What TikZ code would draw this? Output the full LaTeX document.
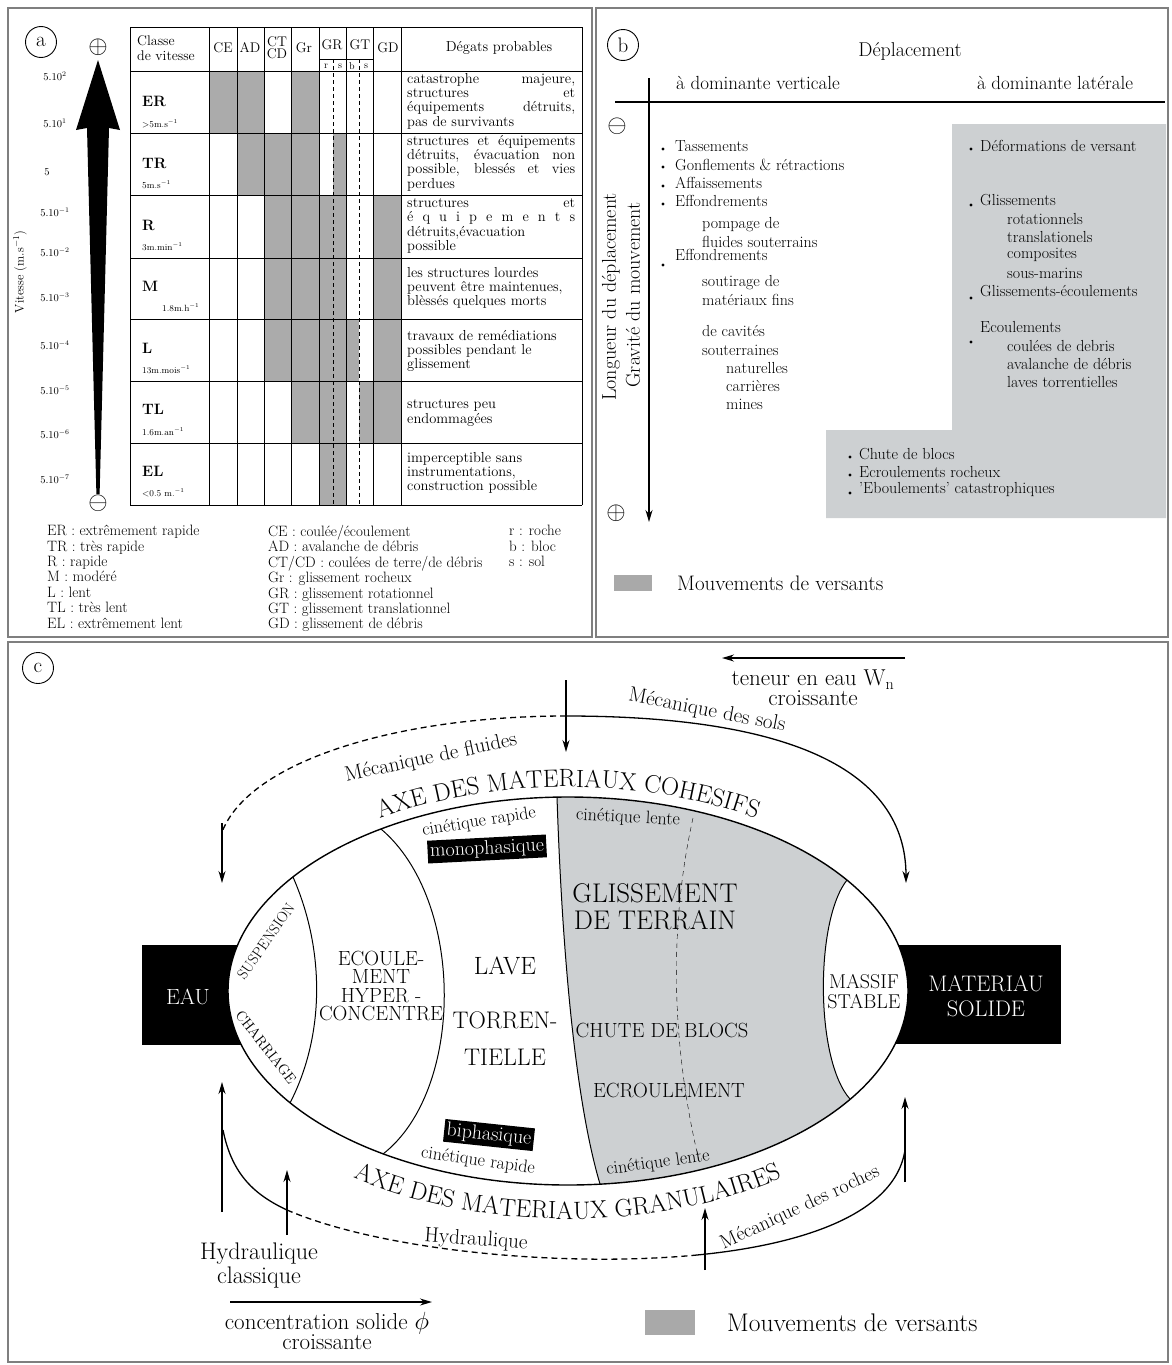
\documentclass[tikz,border=0pt]{standalone}
\usepackage{fontspec}
\usepackage{amsmath,amssymb}
\usepackage{tikz}
\usetikzlibrary{arrows.meta,calc,positioning,decorations.text}
\usepackage{xcolor}
\definecolor{cellgray}{HTML}{ABABAB}
\definecolor{zonegray}{HTML}{CDD0D2}
\definecolor{keygray}{HTML}{A9A9A9}
\definecolor{framegray}{HTML}{7F7F7F}
\newcommand{\fsz}[2]{\fontsize{#1}{#2}\selectfont}
\tikzset{
  panelframe/.style={draw=framegray,line width=2pt},
  panellabel/.style={circle,draw,line width=0.9pt,inner sep=0pt,minimum size=31pt,font=\fsz{21}{21}},
  signnode/.style={inner sep=0pt,font=\fsz{25}{25}},
  ticklabel/.style={inner sep=0pt,font=\fsz{10.5}{10.5}},
  headtext/.style={inner sep=0pt,align=center,font=\fsz{14}{12}},
  classtext/.style={anchor=west,inner sep=0pt,font=\fsz{15}{15}\bfseries},
  speedtext/.style={anchor=west,inner sep=0pt,font=\fsz{9}{9}},
  damagetext/.style={anchor=west,inner sep=0pt,text width=168pt,align=justify,font=\fsz{14.5}{14.3}},
  keytext/.style={anchor=north west,inner sep=0pt,align=left,font=\fsz{15}{15.4}},
  itemtext/.style={anchor=west,inner sep=0pt,font=\fsz{16}{16}},
  titletext/.style={inner sep=0pt,font=\fsz{19}{19}},
  zonetext/.style={inner sep=0pt,align=center},
  blacktag/.style={fill=black,text=white,inner sep=2.5pt,font=\fsz{20}{20}},
  kinetext/.style={inner sep=0pt,font=\fsz{18}{18}},
  mechtext/.style={inner sep=0pt,font=\fsz{21}{21}},
  solidarc/.style={line width=1.3pt},
  brokenarc/.style={line width=1.3pt,dash pattern=on 6pt off 4pt},
}

\begin{document}
\begin{tikzpicture}[x=1pt,y=-1pt,>={Stealth[length=12pt,width=7pt]}]
  \useasboundingbox (0,0) rectangle (1171,1365);

  % ---------------- panel a
  \draw[panelframe] (8,8) rectangle (592,637);
  \node[panellabel] (alabel) at (41,42) {a};
  \node[signnode] (aplus) at (98,47) {$\oplus$};
  \node[signnode] (aminus) at (98,503) {$\ominus$};
  \fill (98,60) -- (120,130) -- (109,128) -- (99.6,494) -- (96.4,494) -- (87,128) -- (76,130) -- cycle;
  \foreach \e/\y [count=\i] in {2/76,1/123,-1/212,-2/252,-3/297,-4/345,-5/390,-6/434,-7/479}
    \node[ticklabel] (tick\i) at (55,\y) {5.10$^{\e}$};
  \node[ticklabel] (tick0) at (47,172) {5};
  \node[rotate=90,inner sep=0pt,font=\fsz{12.5}{12.5}] (vaxis) at (20,272) {Vitesse (m.s$^{-1}$)};

  % grey cells
  \foreach \xa/\xb/\ya/\yb in {209/237/71/133, 237/264/71/195, 264/291/133/381, 291/319/71/443,
      333/346/133/195, 319/346/195/505, 346/359/319/381, 359/373/381/443, 373/401/195/443}
    \fill[cellgray] (\xa,\ya) rectangle (\xb,\yb);
  % grid
  \foreach \x in {130,209,237,264,291,319,346,373,401,582}
    \draw[line width=1pt] (\x,27) -- (\x,505);
  \foreach \y in {27,71,133,195,258,319,381,443,505}
    \draw[line width=1pt] (130,\y) -- (582,\y);
  \draw (319,59) -- (373,59);
  \draw[dash pattern=on 4pt off 3pt] (333,59) -- (333,505);
  \draw[dash pattern=on 4pt off 3pt] (359,59) -- (359,505);

  \node[headtext,anchor=west,align=left,font=\fsz{14}{15}] (hclass) at (137,48) {Classe\\de vitesse};
  \node[headtext] (hce) at (223,48) {CE};
  \node[headtext] (had) at (250,48) {AD};
  \node[headtext] (hct) at (277,48) {CT\\CD};
  \node[headtext] (hgr) at (304,48) {Gr};
  \node[headtext] (hrot) at (332,45) {GR};
  \node[headtext] (htr) at (360,45) {GT};
  \node[headtext] (hgd) at (388,48) {GD};
  \node[headtext,font=\fsz{10}{10}] (hr) at (326,66) {r};
  \node[headtext,font=\fsz{10}{10}] (hs1) at (340,66) {s};
  \node[headtext,font=\fsz{10}{10}] (hb) at (352,66) {b};
  \node[headtext,font=\fsz{10}{10}] (hs2) at (366,66) {s};
  \node[headtext,font=\fsz{14.5}{14.5}] (hdeg) at (499,48) {Dégats probables};

  \node[classtext] (cer) at (142,101) {ER};
  \node[speedtext] (ser) at (142,124) {$>$5m.s$^{-1}$};
  \node[classtext] (ctr) at (142,163) {TR};
  \node[speedtext] (str) at (142,185) {5m.s$^{-1}$};
  \node[classtext] (cr) at (142,225) {R};
  \node[speedtext] (sr) at (142,247) {3m.min$^{-1}$};
  \node[classtext] (cm) at (142,286) {M};
  \node[speedtext] (sm) at (162,308) {1.8m.h$^{-1}$};
  \node[classtext] (cl) at (142,348) {L};
  \node[speedtext] (sl) at (142,370) {13m.mois$^{-1}$};
  \node[classtext] (ctl) at (142,409) {TL};
  \node[speedtext] (stl) at (142,432) {1.6m.an$^{-1}$};
  \node[classtext] (cel) at (142,471) {EL};
  \node[speedtext] (sel) at (142,493) {$<$0.5 m.$^{-1}$};

  \node[damagetext] (der) at (407,101) {catastrophe majeure,\linebreak structures et\linebreak équipements détruits,\linebreak pas de survivants};
  \node[damagetext] (dtr) at (407,163) {structures et équipements\linebreak détruits, évacuation non\linebreak possible, blessés et vies\linebreak perdues};
  \node[damagetext] (dr) at (407,226) {structures et\linebreak é q u i p e m e n t s\linebreak détruits,évacuation\linebreak possible};
  \node[damagetext] (dm) at (407,288) {les structures lourdes\\peuvent être maintenues,\\blèssés quelques morts};
  \node[damagetext] (dl) at (407,351) {travaux de remédiations\\possibles pendant le\\glissement};
  \node[damagetext] (dtl) at (407,413) {structures peu\\endommagées};
  \node[damagetext] (del) at (407,473) {imperceptible sans\\instrumentations,\\construction possible};

  \node[keytext] (keyclass) at (47,525) {ER : extrêmement rapide\\TR : très rapide\\R : rapide\\M : modéré\\L : lent\\TL : très lent\\EL : extrêmement lent};
  \node[keytext] (keytype) at (268,525) {CE : coulée/écoulement\\AD : avalanche de débris\\CT/CD : coulées de terre/de débris\\Gr : glissement rocheux\\GR : glissement rotationnel\\GT : glissement translationnel\\GD : glissement de débris};
  \node[keytext] (keymat) at (509,525) {r : roche\\b : bloc\\s : sol};

  % ---------------- panel b
  \draw[panelframe] (596,8) rectangle (1168,637);
  \node[panellabel] (blabel) at (623,45) {b};
  \fill[zonegray] (952,124) -- (1166,124) -- (1166,518) -- (826,518) -- (826,430) -- (952,430) -- cycle;
  \node[titletext,font=\fsz{20}{20}] (depl) at (910,51) {Déplacement};
  \node[titletext] (vert) at (758,83) {à dominante verticale};
  \node[titletext] (lat) at (1055,83) {à dominante latérale};
  \draw[line width=1.6pt] (615,102) -- (1165,102);
  \coordinate (btop) at (649,78);
  \coordinate (bbot) at (649,522);
  \draw[line width=1.5pt,->] (btop) -- (bbot);
  \node[signnode] (bminus) at (617,126) {$\ominus$};
  \node[signnode] (bplus) at (616,513) {$\oplus$};
  \node[titletext,rotate=90,font=\fsz{20}{20}] (longueur) at (611,297) {Longueur du déplacement};
  \node[titletext,rotate=90,font=\fsz{20}{20}] (gravite) at (633,295) {Gravité du mouvement};

  \foreach \t/\x/\y [count=\i] in {Tassements/675/146, Gonflements \& rétractions/675/165,
      Affaissements/675/183, Effondrements/675/201, pompage de/702/225, fluides souterrains/702/242,
      Effondrements/675/255, soutirage de/702/283, matériaux fins/702/300, de cavités/702/331,
      souterraines/702/350, naturelles/726/368, carrières/726/386, mines/726/404}
    \node[itemtext] (vl\i) at (\x,\y) {\t};
  \foreach \t/\x/\y [count=\i] in {Déformations de versant/980/146, Glissements/980/200,
      rotationnels/1007/219, translationels/1007/237, composites/1007/255, sous-marins/1007/273,
      Glissements-écoulements/980/291, Ecoulements/980/327, coulées de debris/1007/346,
      avalanche de débris/1007/364, laves torrentielles/1007/382, Chute de blocs/859/454,
      Ecroulements rocheux/859/472, 'Eboulements' catastrophiques/859/490}
    \node[itemtext] (ll\i) at (\x,\y) {\t};
  \foreach \x/\y in {663/149,663/167,663/186,663/204,663/265,971/149,971/205,971/298,971/342,850/457,850/475,850/493}
    \fill (\x,\y) circle (1.7);
  \fill[keygray] (614,575) rectangle (652,591);
  \node[titletext,anchor=west,font=\fsz{21}{21}] (bkey) at (677,583) {Mouvements de versants};

  % ---------------- panel c
  \draw[panelframe] (8,642) rectangle (1168,1362);
  \node[panellabel] (clabel) at (38,668) {c};
  \fill (142,945) rectangle (262,1045);
  \fill (880,945) rectangle (1061,1044);
  \fill[white] (568,991) ellipse [x radius=340, y radius=194];
  \begin{scope}
    \clip (568,991) ellipse [x radius=340, y radius=194];
    \fill[zonegray] (557,780) -- (557,797) .. controls (562,950) and (575,1100) .. (600,1184)
      -- (600,1200) -- (852,1200) -- (850,1099) .. controls (815,1060) and (815,920) .. (847,880)
      -- (847,780) -- cycle;
  \end{scope}
  \draw[line width=1pt] (293,877) .. controls (325,950) and (325,1035) .. (290,1103);
  \draw[line width=1pt] (381,829) .. controls (465,900) and (465,1090) .. (383,1154);
  \draw[line width=1pt] (557,797) .. controls (562,950) and (575,1100) .. (600,1184);
  \draw[line width=1pt] (847,880) .. controls (815,920) and (815,1060) .. (850,1099);
  \draw[dash pattern=on 5pt off 4pt] (693,818) .. controls (668,930) and (672,1050) .. (700,1165);
  \draw[line width=1.4pt] (568,991) ellipse [x radius=340, y radius=194];

  \node[zonetext,text=white,font=\fsz{22}{22}] (eau) at (188,997) {EAU};
  \node[zonetext,text=white,font=\fsz{22.5}{25}] (solide) at (986,996) {MATERIAU\\SOLIDE};
  \node[zonetext,rotate=55,font=\fsz{15}{15}] (susp) at (266,941) {SUSPENSION};
  \node[zonetext,rotate=-52,font=\fsz{14.5}{14.5}] (charr) at (266,1047) {CHARRIAGE};
  \node[zonetext,font=\fsz{20.5}{18.3}] (hyper) at (381,986) {ECOULE-\\MENT\\HYPER -\\CONCENTRE};
  \node[zonetext,font=\fsz{25}{25}] (lave) at (505,966) {LAVE};
  \node[zonetext,font=\fsz{24}{37}] (torrent) at (505,1039) {TORREN-\\TIELLE};
  \node[zonetext,font=\fsz{27}{27}] (gliss) at (655,907) {GLISSEMENT\\DE TERRAIN};
  \node[zonetext,font=\fsz{20.5}{20.5}] (chute) at (662,1030) {CHUTE DE BLOCS};
  \node[zonetext,font=\fsz{20.5}{20.5}] (ecroul) at (669,1090) {ECROULEMENT};
  \node[zonetext,font=\fsz{20}{20}] (massif) at (864,992) {MASSIF\\STABLE};

  \node[kinetext,rotate=9] (crtop) at (479,822) {cinétique rapide};
  \node[blacktag,rotate=3] (mono) at (487,849) {monophasique};
  \node[kinetext,rotate=-3] (cltop) at (628,818) {cinétique lente};
  \node[blacktag,rotate=-6] (bi) at (489,1135) {biphasique};
  \node[kinetext,rotate=-8] (crbot) at (478,1161) {cinétique rapide};
  \node[kinetext,rotate=8] (clbot) at (658,1163) {cinétique lente};

  \path[decorate,decoration={text along path,text align=center,
      text={|\fsz{25}{25}|AXE DES MATERIAUX COHESIFS}}]
    (568,991) ++(-150:352 and 204) arc[start angle=-150,end angle=-30,x radius=352,y radius=204];
  \path[decorate,decoration={text along path,text align=center,
      text={|\fsz{25}{25}|AXE DES MATERIAUX GRANULAIRES}}]
    (568,991) ++(160:374 and 228) arc[start angle=160,end angle=20,x radius=374,y radius=228];

  % upper arrows
  \coordinate (wtop) at (566,680);
  \coordinate (wbot) at (566,752);
  \coordinate (fork) at (566,716);
  \coordinate (soltip) at (906,883);
  \coordinate (fluend) at (222,832);
  \coordinate (flutop) at (222,823);
  \coordinate (flutip) at (222,883);
  \draw[solidarc,->] (wtop) -- (wbot);
  \draw[solidarc,->] (fork) .. controls (790,716) and (906,770) .. (soltip);
  \draw[brokenarc] (fork) .. controls (400,716) and (250,760) .. (fluend);
  \draw[solidarc,->] (flutop) -- (flutip);
  \coordinate (wnright) at (905,658);
  \coordinate (wnleft) at (722,658);
  \draw[solidarc,->] (wnright) -- (wnleft);
  \node[inner sep=0pt,align=center,font=\fsz{23}{18}] (teneur) at (813,688) {teneur en eau W$_\mathrm{n}$\\croissante};
  \node[mechtext,rotate=-11] (msols) at (707,711) {Mécanique des sols};
  \node[mechtext,rotate=12] (mfluides) at (431,758) {Mécanique de fluides};

  % lower arrows
  \coordinate (hcbot) at (222,1212);
  \coordinate (hctip) at (222,1082);
  \coordinate (hcjoin) at (223,1130);
  \coordinate (hmid) at (287,1210);
  \coordinate (hend) at (697,1255);
  \coordinate (rjoin) at (905,1150);
  \draw[solidarc,->] (hcbot) -- (hctip);
  \draw[solidarc] (hcjoin) .. controls (232,1175) and (255,1195) .. (hmid);
  \draw[brokenarc] (hmid) .. controls (380,1250) and (560,1268) .. (hend);
  \draw[solidarc] (hend) .. controls (800,1245) and (895,1215) .. (rjoin);
  \coordinate (rbot) at (905,1182);
  \coordinate (rtip) at (905,1097);
  \draw[solidarc,->] (rbot) -- (rtip);
  \coordinate (habot) at (287,1235);
  \coordinate (hatip) at (287,1170);
  \draw[solidarc,->] (habot) -- (hatip);
  \coordinate (mrbot) at (705,1270);
  \coordinate (mrtip) at (705,1208);
  \draw[solidarc,->] (mrbot) -- (mrtip);
  \node[mechtext,rotate=-4] (hydr) at (476,1240) {Hydraulique};
  \node[mechtext,rotate=25,font=\fsz{20}{20}] (mroches) at (800,1208) {Mécanique des roches};
  \node[inner sep=0pt,align=center,font=\fsz{24}{24}] (hclass) at (259,1265) {Hydraulique\\classique};
  \coordinate (phileft) at (230,1302);
  \coordinate (phiright) at (432,1302);
  \draw[solidarc,->] (phileft) -- (phiright);
  \node[inner sep=0pt,align=center,font=\fsz{23}{20}] (phi) at (327,1331) {concentration solide $\phi$\\croissante};
  \fill[keygray] (645,1310) rectangle (695,1335);
  \node[inner sep=0pt,anchor=west,font=\fsz{25.5}{25.5}] (ckey) at (727,1323) {Mouvements de versants};
\end{tikzpicture}
\end{document}
